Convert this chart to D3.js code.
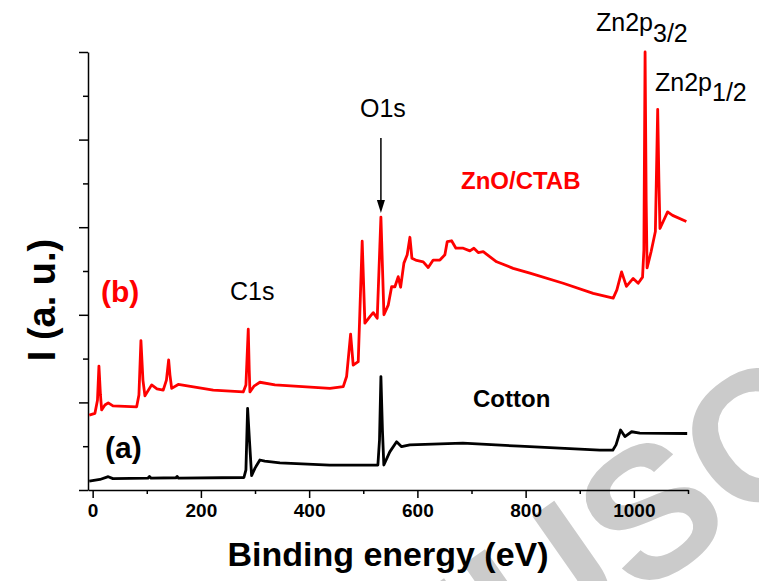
<!DOCTYPE html>
<html>
<head>
<meta charset="utf-8">
<script src="https://cdn.jsdelivr.net/npm/d3@7"></script>
<style>
  body { margin: 0; background: #fff; }
  svg { display: block; font-family: "Liberation Sans", Arial, sans-serif; }
</style>
</head>
<body>
<svg id="chart" width="759" height="581"></svg>
<script>
// binding energy (eV) / intensity (a.u., 0-100)
const cottonEnergy = [-6.3, 13.5, 28.8, 37.5, 102, 105, 108, 154, 156, 158.5, 279.5, 283.2, 286.3, 289.7, 293.7, 300, 309, 318, 346, 438, 527, 530, 532.6, 535.4, 538, 549, 561.6, 570.8, 586, 684, 789, 937, 961, 967, 975.4, 983.4, 995.8, 1011, 1098.5];
const cottonCounts = [2.05, 2.4, 3.04, 2.6, 2.7, 3.1, 2.7, 2.8, 3.1, 2.7, 2.85, 4.6, 18.65, 11.4, 3.3, 5.0, 6.85, 6.6, 6.2, 5.7, 5.7, 11.4, 25.9, 13.7, 5.7, 8.7, 11.0, 9.9, 10.3, 10.7, 10.0, 9.1, 9.1, 10.3, 13.7, 12.2, 13.3, 13.0, 12.9];

const znoEnergy = [-6.3, 4.2, 8.9, 11.6, 14.4, 16.6, 22.7, 28.8, 37.5, 81.3, 85.5, 89.2, 92.9, 96.6, 109, 118.8, 130.4, 136.3, 140.4, 142.8, 146, 158.1, 222.8, 278.2, 283.2, 287.5, 289.3, 290.6, 298, 309, 336.8, 438.4, 463, 469.2, 476.6, 481.4, 490.7, 498, 503, 512.3, 518.4, 525.8, 532.6, 538.2, 546.1, 552.4, 558.5, 564.6, 569, 575.1, 581.2, 586.2, 589.9, 598.6, 610.8, 620, 629.2, 641.6, 650.8, 655.1, 663.2, 671.2, 684.7, 697, 704.4, 712.4, 721.6, 746.4, 777, 807.9, 869.4, 924.8, 961.8, 968.6, 977.3, 986.2, 998.7, 1008, 1016, 1018.5, 1020.7, 1022.7, 1024.4, 1031.8, 1039.7, 1044, 1046.2, 1048.2, 1062.3, 1071.5, 1097];
const znoCounts = [17.1, 17.5, 20.5, 28.3, 21.7, 18.3, 19.4, 19.9, 19.2, 19.0, 21.7, 34.1, 25.1, 21.5, 24.0, 23.1, 22.8, 25.1, 29.7, 26.3, 23.2, 24.1, 22.8, 22.4, 24.0, 36.7, 27.4, 22.4, 23.7, 24.6, 24.0, 23.2, 23.6, 25.9, 35.6, 28.5, 29.3, 56.8, 38.1, 39.6, 40.5, 39.2, 62.3, 40.0, 42.2, 46.4, 46.4, 48.7, 46.3, 51.8, 53.7, 57.7, 52.9, 52.4, 52.1, 50.8, 52.5, 52.5, 53.7, 56.7, 56.9, 55.2, 55.2, 54.6, 55.2, 54.2, 54.4, 52.1, 50.6, 49.5, 47.2, 44.9, 43.8, 45.7, 49.8, 46.5, 48.3, 47.2, 48.6, 54.8, 100, 66.2, 50.7, 54.4, 59.0, 86.9, 70.8, 59.7, 63.5, 62.7, 61.3];

const xMajorTicks = [0, 200, 400, 600, 800, 1000];
const xMinorTicks = [100, 300, 500, 700, 900, 1100];
const yMajorTicks = [0, 20, 40, 60, 80, 100];
const yMinorTicks = [10, 30, 50, 70, 90];

const svg = d3.select('#chart');

const x = d3.scaleLinear().domain([-8.6, 1100]).range([88, 688]);
const y = d3.scaleLinear().domain([0, 100]).range([490, 52]);

// faint watermark behind the plot
svg.append('text')
    .attr('transform', 'translate(182,917) rotate(-35)')
    .attr('fill', '#cbcbcb')
    .attr('font-size', 185)
    .attr('font-weight', 'bold')
    .text('MANUSCRIPT');

// axes
const xAxis = svg.append('g').attr('transform', 'translate(0,490)')
    .call(d3.axisBottom(x).tickValues(xMajorTicks).tickSize(8).tickSizeOuter(0)
        .tickPadding(6).tickFormat(d3.format('d')));
svg.append('g').attr('transform', 'translate(0,490)')
    .call(d3.axisBottom(x).tickValues(xMinorTicks).tickSize(4).tickFormat('').tickSizeOuter(0))
    .select('.domain').remove();
xAxis.selectAll('text')
    .attr('font-size', 19).attr('font-weight', 'bold').attr('fill', '#000')
    .attr('font-family', '"Liberation Sans", Arial, sans-serif');

svg.append('g').attr('transform', 'translate(88,0)')
    .call(d3.axisLeft(y).tickValues(yMajorTicks).tickSize(9).tickFormat('').tickSizeOuter(0));
svg.append('g').attr('transform', 'translate(88,0)')
    .call(d3.axisLeft(y).tickValues(yMinorTicks).tickSize(5).tickFormat('').tickSizeOuter(0))
    .select('.domain').remove();

svg.selectAll('.domain, .tick line').attr('stroke', '#000').attr('stroke-width', 1.5);

// spectra
const line = d3.line().x(d => x(d[0])).y(d => y(d[1]));
const cotton = cottonEnergy.map((e, i) => [e, cottonCounts[i]]);
const zno = znoEnergy.map((e, i) => [e, znoCounts[i]]);

svg.append('path').datum(cotton)
    .attr('d', line).attr('fill', 'none').attr('stroke', '#000')
    .attr('stroke-width', 2.8).attr('stroke-linejoin', 'round');
svg.append('path').datum(zno)
    .attr('d', line).attr('fill', 'none').attr('stroke', '#ff0000')
    .attr('stroke-width', 2.8).attr('stroke-linejoin', 'round');

// axis titles
svg.append('text')
    .attr('x', 388).attr('y', 566)
    .attr('text-anchor', 'middle').attr('font-size', 34).attr('font-weight', 'bold')
    .text('Binding energy (eV)');
svg.append('text')
    .attr('transform', 'translate(55,300) rotate(-90)')
    .attr('text-anchor', 'middle').attr('font-size', 38).attr('font-weight', 'bold')
    .text('I (a. u.)');

// peak labels
const zn32 = svg.append('text').attr('x', 596).attr('y', 31).attr('font-size', 25);
zn32.append('tspan').text('Zn2p');
zn32.append('tspan').attr('dy', 11).text('3/2');
const zn12 = svg.append('text').attr('x', 655).attr('y', 91).attr('font-size', 25);
zn12.append('tspan').text('Zn2p');
zn12.append('tspan').attr('dy', 10).text('1/2');

svg.append('text').attr('x', 360).attr('y', 117)
    .attr('font-size', 25).text('O1s');
svg.append('text').attr('x', 230).attr('y', 300)
    .attr('font-size', 25).text('C1s');

// arrow to O1s peak
const ax = x(532.6);
svg.append('line').attr('x1', ax).attr('x2', ax).attr('y1', 138).attr('y2', 202)
    .attr('stroke', '#000').attr('stroke-width', 1.5);
svg.append('path')
    .attr('d', `M${ax - 4},200 L${ax + 4},200 L${ax},213 Z`)
    .attr('fill', '#000');

// sample labels
svg.append('text').attr('x', 461).attr('y', 189)
    .attr('font-size', 24).attr('font-weight', 'bold').attr('fill', '#ff0000')
    .text('ZnO/CTAB');
svg.append('text').attr('x', 473).attr('y', 407)
    .attr('font-size', 24).attr('font-weight', 'bold').attr('fill', '#000')
    .text('Cotton');
svg.append('text').attr('x', 101).attr('y', 302)
    .attr('font-size', 30).attr('font-weight', 'bold').attr('fill', '#ff0000')
    .text('(b)');
svg.append('text').attr('x', 105).attr('y', 458)
    .attr('font-size', 30).attr('font-weight', 'bold').attr('fill', '#000')
    .text('(a)');
</script>
</body>
</html>
